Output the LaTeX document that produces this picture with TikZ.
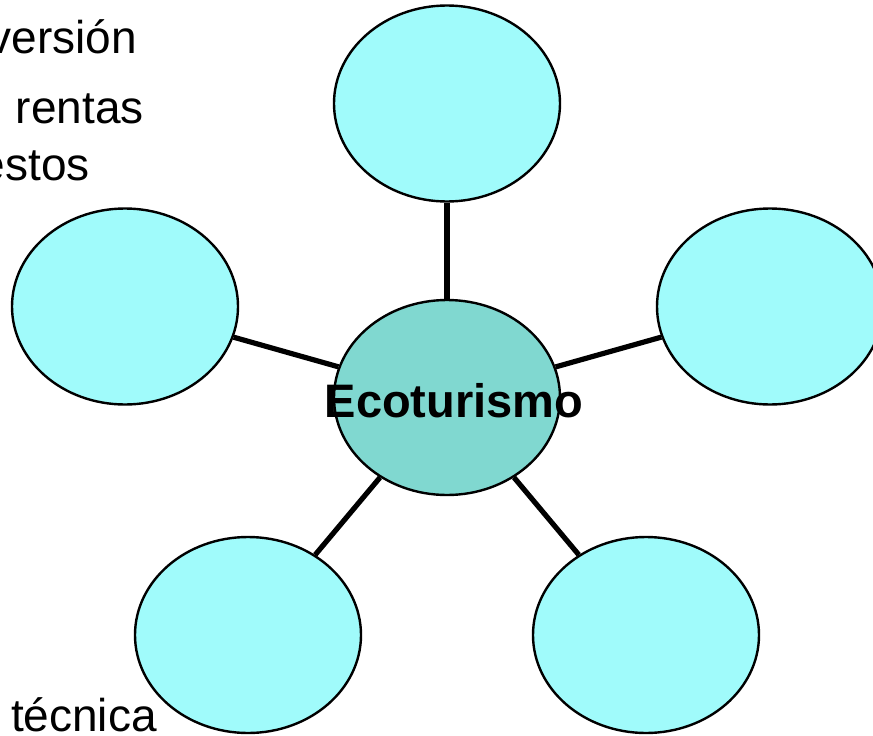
\documentclass[tikz,border=0pt]{standalone}
\usepackage{fontspec}
\setmainfont{Liberation Sans}
\usetikzlibrary{shapes.geometric}
\definecolor{sat}{RGB}{160,251,251}
\definecolor{hub}{RGB}{128,216,208}
\tikzset{
  satellite/.style={ellipse, draw=black, line width=2.4pt, fill=sat, minimum width=226pt, minimum height=196pt, inner sep=0pt},
  hubnode/.style={ellipse, draw=black, line width=2.4pt, fill=hub, minimum width=226pt, minimum height=195pt, inner sep=0pt},
  spoke/.style={line width=5.2pt, draw=black},
  lbl/.style={font=\fontsize{46}{54}\selectfont, inner sep=0pt, anchor=base east}
}
\begin{document}
\begin{tikzpicture}[x=1pt,y=-1pt]
\useasboundingbox (0,0) rectangle (873,736);
\clip (0,0) rectangle (873,736);
\node[hubnode] (c) at (447,397.5) {};
\node[satellite] (t) at (447,103.5) {};
\node[satellite] (l) at (125,306.5) {};
\node[satellite] (r) at (770,306.5) {};
\node[satellite] (bl) at (248,635) {};
\node[satellite] (br) at (646,635) {};
\draw[spoke] (c) -- (t);
\draw[spoke] (c) -- (l);
\draw[spoke] (c) -- (r);
\draw[spoke] (c) -- (bl);
\draw[spoke] (c) -- (br);
\node[font=\fontsize{47}{54}\selectfont\bfseries, inner sep=0pt, anchor=base] (ct) at (454,417) {Ecoturismo};
\node[lbl] (v) at (137,53) {versión};
\node[lbl] (rt) at (144,123) {rentas};
\node[lbl] (es) at (90,180) {estos};
\node[lbl] (tc) at (157,731) {técnica};
\end{tikzpicture}
\end{document}
